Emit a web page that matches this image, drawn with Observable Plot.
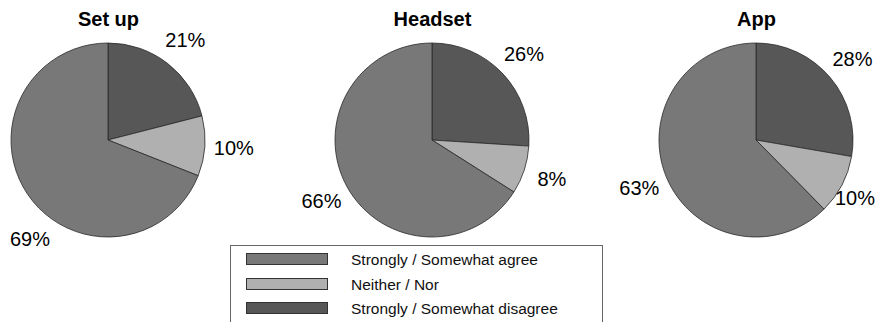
<!DOCTYPE html>
<html><head><meta charset="utf-8">
<script src="https://cdn.jsdelivr.net/npm/d3@7"></script>
<script src="https://cdn.jsdelivr.net/npm/@observablehq/plot@0.6"></script>
<style>
body{margin:0;background:#fff;font-family:"Liberation Sans",Arial,sans-serif;}
#wrap{position:relative;width:875px;height:322px;overflow:hidden;background:#fff;}
#legend{position:absolute;left:230px;top:245px;width:373px;height:110px;border:1px solid #666;box-sizing:border-box;background:#fff;}
.sw{position:absolute;left:15px;width:80px;height:10px;border:1px solid #333;}
.lab{position:absolute;left:120px;font-size:15.5px;line-height:20px;color:#111;white-space:nowrap;}
</style></head><body><div id="wrap"></div>
<script>
const categories = ["Set up", "Headset", "App"];
const responses = ["Strongly / Somewhat agree", "Neither / Nor", "Strongly / Somewhat disagree"];
const agree = [69, 66, 63];
const neither = [10, 8, 10];
const disagree = [21, 26, 28];
const colors = ["#787878", "#b0b0b0", "#575757"];

// rows in pie order: disagree (from 12 o'clock, clockwise), neither, agree
const rows = [];
categories.forEach((c, k) => {
  rows.push({category: c, response: responses[2], value: disagree[k]});
  rows.push({category: c, response: responses[1], value: neither[k]});
  rows.push({category: c, response: responses[0], value: agree[k]});
});

const R = 97, CY = 140, LABEL_K = 1.3;

function pieRender(index, scales, values, dimensions, context) {
  const g = d3.create("svg:g");
  const groups = d3.group(index, i => rows[i].category);
  const minX = 30, maxX = dimensions.width - 20;
  for (const [cat, idx] of groups) {
    const cx = values.x[idx[0]];
    const arcs = d3.pie().sort(null).value(i => rows[i].value)(idx);
    const arc = d3.arc().innerRadius(0).outerRadius(R);
    const gg = g.append("g").attr("transform", `translate(${cx},${CY})`);
    gg.selectAll("path").data(arcs).join("path")
      .attr("d", arc)
      .attr("fill", a => values.fill[a.data])
      .attr("stroke", "#2a2a2a")
      .attr("stroke-width", 0.8)
      .attr("stroke-linejoin", "round");
    for (const a of arcs) {
      let t = (a.startAngle + a.endAngle) / 2;
      const d = R * LABEL_K;
      let x = cx + d * Math.sin(t);
      let y = CY - d * Math.cos(t);
      if (x < minX) {
        t = Math.PI - Math.asin((minX - cx) / d);
        x = cx + d * Math.sin(t);
        y = CY - d * Math.cos(t);
      } else if (x > maxX) {
        x = maxX;
      }
      g.append("text")
        .attr("x", x).attr("y", y)
        .attr("text-anchor", "middle")
        .attr("dy", "0.35em")
        .attr("font-size", 20)
        .attr("fill", "#000")
        .text(`${rows[a.data].value}%`);
    }
  }
  return g.node();
}

const plot = Plot.plot({
  width: 875,
  height: 245,
  margin: 0,
  style: {fontFamily: "Liberation Sans, Arial, sans-serif", background: "white", overflow: "visible"},
  x: {type: "point", domain: categories, range: [108, 756], padding: 0, axis: null},
  color: {domain: responses, range: colors},
  marks: [
    Plot.dot(rows, {x: "category", fill: "response", render: pieRender}),
    Plot.text(categories, {x: d => d, text: d => d, frameAnchor: "top", lineAnchor: "top", dy: 11,
      fontSize: 20, fontWeight: "bold", fill: "#000"})
  ]
});

const wrap = document.getElementById("wrap");
wrap.appendChild(plot);

// legend below the chart, colours from Plot's color scale
const colorScale = plot.scale("color");
const legend = document.createElement("div");
legend.id = "legend";
const rowTops = [3, 28, 52];
colorScale.domain.forEach((r, i) => {
  const sw = document.createElement("div");
  sw.className = "sw";
  sw.style.top = (rowTops[i] + 4) + "px";
  sw.style.background = colorScale.apply(r);
  legend.appendChild(sw);
  const lab = document.createElement("div");
  lab.className = "lab";
  lab.style.top = (rowTops[i] + 1) + "px";
  lab.textContent = r;
  legend.appendChild(lab);
});
wrap.appendChild(legend);
</script></body></html>
